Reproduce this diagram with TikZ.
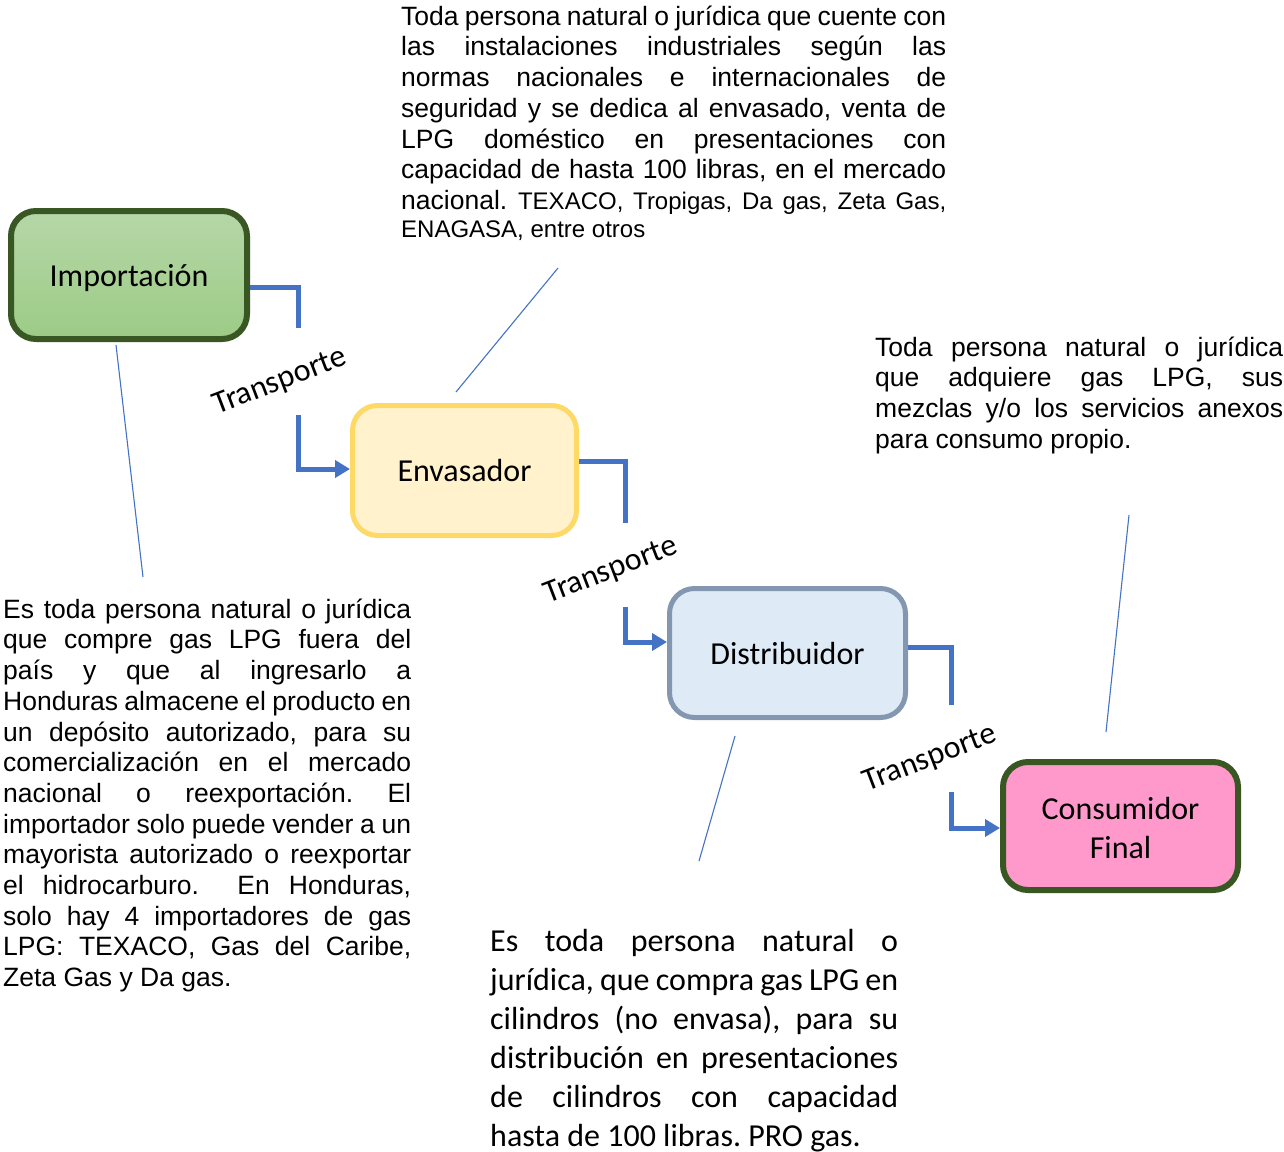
\documentclass[tikz,border=0pt]{standalone}
\usepackage{fontspec}
\setmainfont{Liberation Sans}
\newfontfamily\arialf{Liberation Sans}
\newfontfamily\calib{Carlito}
\usetikzlibrary{arrows.meta,calc}

\definecolor{flowblue}{HTML}{4472C4}
\definecolor{impborder}{HTML}{385723}
\definecolor{imptop}{HTML}{B6D7A8}
\definecolor{impbottom}{HTML}{9CCB86}
\definecolor{envfill}{HTML}{FFF2CC}
\definecolor{envborder}{HTML}{FFD966}
\definecolor{disfill}{HTML}{DEEAF6}
\definecolor{disborder}{HTML}{8497B0}
\definecolor{confill}{HTML}{FF99CC}

% justified line / last line of a paragraph block
\newlength\blockw
\newcommand\jl[1]{\noindent\makebox[\blockw][s]{#1}\par}
\newcommand\lastl[1]{\noindent\makebox[\blockw][l]{#1}\par}
\newcommand\firststrut{\rule{0pt}{28pt}}
\newcommand\blocksetup[1]{\setlength\blockw{#1}\frenchspacing\spaceskip=0pt\xspaceskip=0pt\parindent=0pt\parskip=0pt}

\begin{document}
\begin{tikzpicture}[x=1pt,y=-1pt,
  stage/.style={rectangle, rounded corners=25pt, inner sep=0pt,
    text height=26pt, text depth=3.5pt,
    font=\calib\fontsize{32}{39}\selectfont},
  flow/.style={draw=flowblue, line width=5pt},
  flowarrow/.style={flow, -{Triangle[length=15pt,width=17pt]}},
  translabel/.style={rotate=21, inner sep=0pt, font=\calib\fontsize{32}{38}\selectfont},
  callout/.style={draw=flowblue, line width=1.1pt},
  desc/.style={anchor=north west, inner sep=0pt}
]
\useasboundingbox[fill=white] (0,0) rectangle (1284,1151);

% stages of the supply chain
\node[stage, minimum width=236pt, minimum height=128pt, line width=6pt,
      draw=impborder, top color=imptop, bottom color=impbottom]
      (imp) at (129,275) {Importación};
\node[stage, minimum width=224pt, minimum height=130pt, line width=5pt,
      draw=envborder, fill=envfill] (env) at (464.5,470.5) {Envasador};
\node[stage, minimum width=236pt, minimum height=129pt, line width=5pt,
      draw=disborder, fill=disfill] (dis) at (787.5,653) {Distribuidor};
\node[stage, minimum width=235pt, minimum height=128pt, line width=6pt,
      draw=impborder, fill=confill] (con) at (1120.5,826)
      {\begin{tabular}{@{}c@{}}Consumidor\\Final\end{tabular}};

% transport connectors, broken around their labels
\coordinate (t1a) at (298,328); \coordinate (t1b) at (298,415);
\coordinate (t2a) at (625,523); \coordinate (t2b) at (625,607);
\coordinate (t3a) at (951,705); \coordinate (t3b) at (951,792);

\draw[flow] ($(imp.east)+(0,12)$) -| (t1a);
\draw[flowarrow] (t1b) |- ($(env.west)+(0,-1.5)$);
\draw[flow] ($(env.east)+(0,-9.5)$) -| (t2a);
\draw[flowarrow] (t2b) |- ($(dis.west)+(0,-11)$);
\draw[flow] ($(dis.east)+(0,-6)$) -| (t3a);
\draw[flowarrow] (t3b) |- ($(con.west)+(0,2)$);

\node[translabel] (tr1) at (280,382) {Transporte};
\node[translabel] (tr2) at (611,571) {Transporte};
\node[translabel] (tr3) at (930,759) {Transporte};

% callout lines
\coordinate (c1a) at (116,345); \coordinate (c1b) at (143,577);
\coordinate (c2a) at (558,268); \coordinate (c2b) at (456,392);
\coordinate (c3a) at (735,736); \coordinate (c3b) at (699,861);
\coordinate (c4a) at (1129,515); \coordinate (c4b) at (1106,732);
\draw[callout] (c1a) -- (c1b);
\draw[callout] (c2a) -- (c2b);
\draw[callout] (c3a) -- (c3b);
\draw[callout] (c4a) -- (c4b);

% descriptions
\node[desc, text width=545pt] (denv) at (401,-3) {%
  \arialf\fontsize{26.5}{30.7}\selectfont\blocksetup{545pt}%
  \jl{\firststrut Toda persona natural o jurídica que cuente con}
  \jl{las instalaciones industriales según las}
  \jl{normas nacionales e internacionales de}
  \jl{seguridad y se dedica al envasado, venta de}
  \jl{LPG doméstico en presentaciones con}
  \jl{capacidad de hasta 100 libras, en el mercado}
  \jl{nacional. {\fontsize{24}{27.6}\selectfont TEXACO, Tropigas, Da gas, Zeta Gas,}}
  \fontsize{24}{28.2}\selectfont
  \lastl{ENAGASA, entre otros}};

\node[desc, text width=408pt] (dimp) at (3,590) {%
  \arialf\fontsize{26.5}{30.7}\selectfont\blocksetup{408pt}%
  \jl{\firststrut Es toda persona natural o jurídica}
  \jl{que compre gas LPG fuera del}
  \jl{país y que al ingresarlo a}
  \jl{Honduras almacene el producto en}
  \jl{un depósito autorizado, para su}
  \jl{comercialización en el mercado}
  \jl{nacional o reexportación. El}
  \jl{importador solo puede vender a un}
  \jl{mayorista autorizado o reexportar}
  \jl{el hidrocarburo.\ \ En Honduras,}
  \jl{solo hay 4 importadores de gas}
  \jl{LPG: TEXACO, Gas del Caribe,}
  \lastl{Zeta Gas y Da gas.}};

\node[desc, text width=408pt] (dcon) at (875,328) {%
  \arialf\fontsize{26.5}{30.7}\selectfont\blocksetup{408pt}%
  \jl{\firststrut Toda persona natural o jurídica}
  \jl{que adquiere gas LPG, sus}
  \jl{mezclas y/o los servicios anexos}
  \lastl{para consumo propio.}};

\node[desc, text width=408pt] (ddis) at (490,923) {%
  \calib\fontsize{32}{39}\selectfont\blocksetup{408pt}%
  \jl{\firststrut Es toda persona natural o}
  \jl{jurídica, que compra gas LPG en}
  \jl{cilindros (no envasa), para su}
  \jl{distribución en presentaciones}
  \jl{de cilindros con capacidad}
  \lastl{hasta de 100 libras. PRO gas.}};
\end{tikzpicture}
\end{document}
